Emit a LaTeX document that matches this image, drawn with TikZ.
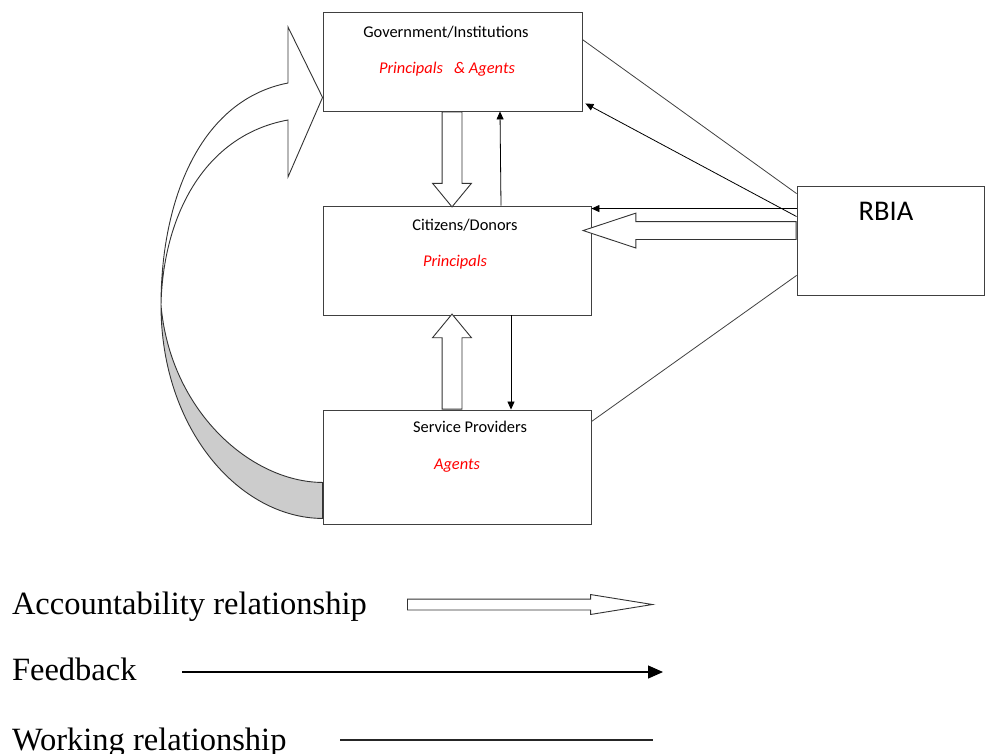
\documentclass[tikz,border=0pt]{standalone}
\usepackage{fontspec}
\setmainfont{Carlito}
\newfontfamily\legendfont{Liberation Serif}
\usetikzlibrary{arrows.meta,shapes.arrows}

\tikzset{
	box/.style={shape=rectangle,draw=black!75,line width=0.9pt,inner sep=0pt},
	title/.style={anchor=base,font=\fontsize{16.4}{19}\selectfont},
	role/.style={anchor=base,text=red,font=\fontsize{16.4}{19}\selectfont\itshape},
	accarrow/.style={single arrow,draw=black!80,fill=white,line width=0.9pt,inner xsep=0pt,minimum width=0pt,anchor=tail},
	feedback/.style={-{Triangle[length=8pt,width=7pt]},black,line width=0.8pt},
	working/.style={-,black!75,line width=0.8pt},
	legend/.style={anchor=base west,font=\legendfont\fontsize{32.5}{38}\selectfont},
	bend arrow/.style={draw=black!80,line width=0.9pt,fill=white}
}

\begin{document}
\begin{tikzpicture}[x=1pt,y=-1pt]
	\useasboundingbox (0,0) rectangle (985,753);
	% boxes
	\node[box,minimum width=259pt,minimum height=99pt]  (gov)  at (452.5,61.5) {};
	\node[box,minimum width=268pt,minimum height=109pt] (cit)  at (457,260.5)  {};
	\node[box,minimum width=268pt,minimum height=114pt] (serv) at (457,467)    {};
	\node[box,minimum width=187pt,minimum height=109pt] (rbia) at (890.5,240.5) {};
	\node[title] (govname)  at (446,37)  {Government/Institutions};
	\node[role]  (govrole)  at (447,73)  {Principals\ \ \ \& Agents};
	\node[title] (citname)  at (465,230) {Citizens/Donors};
	\node[role]  (citrole)  at (455,266) {Principals};
	\node[title] (servname) at (470,432) {Service Providers};
	\node[role]  (servrole) at (457,469) {Agents};
	\node[title,font=\fontsize{28.5}{32}\selectfont] (rbianame) at (886,220) {RBIA};
	% curved accountability arrow, service providers -> government
	\path[bend arrow] (288,83) -- (288,27) -- ([yshift=14pt]gov.south west) -- (288,177) -- (288,120)
		.. controls (205,135) and (163,215) .. (161,305)
		.. controls (161,200) and (200,100) .. (288,83) -- cycle;
	\path[bend arrow,fill=black!20] (161,305) .. controls (161,430) and (240,518) .. ([yshift=6pt]serv.south west)
		-- ([yshift=42pt]serv.south west) .. controls (250,482) and (170,410) .. (161,305) -- cycle;
	% accountability arrows
	\node[accarrow,inner ysep=9.5pt,single arrow head extend=9.5pt,single arrow tip angle=79,minimum height=95pt,rotate=-90] (govtocit) at ([xshift=-0.5pt]gov.south) {};
	\node[accarrow,inner ysep=9.5pt,single arrow head extend=9.5pt,single arrow tip angle=79,minimum height=95pt,rotate=90]  (servtocit) at ([xshift=-5pt]serv.north) {};
	\node[accarrow,inner ysep=8.5pt,single arrow head extend=8.5pt,single arrow tip angle=36.6,minimum height=213pt,rotate=180] (rbiatocit) at ([yshift=-45pt]rbia.north west) {};
	% feedback
	\draw[feedback] ([xshift=44pt]cit.north) -- ([xshift=47.5pt]gov.south);
	\draw[feedback] ([xshift=54pt]cit.south) -- ([xshift=54pt]serv.north);
	\draw[feedback] ([yshift=-31pt]rbia.north west) -- ([xshift=3pt,yshift=8pt]gov.south east);
	\draw[feedback] ([yshift=-23pt]rbia.north west) -- ([yshift=-3pt]cit.north east);
	% working relationships
	\draw[working] ([yshift=-8pt]rbia.north west) -- ([yshift=-28pt]gov.north east);
	\draw[working] ([yshift=20pt]rbia.south west) -- ([yshift=-12pt]serv.north east);
	% legend
	\node[legend] (acctext) at (8.5,614) {Accountability relationship};
	\node[legend] (fbtext)  at (8.5,680) {Feedback};
	\node[legend] (wktext)  at (8.5,750) {Working relationship};
	\coordinate (accstart) at (407,604.5);
	\node[accarrow,inner ysep=5pt,single arrow head extend=4.5pt,single arrow tip angle=18.3,minimum height=245pt] (accsample) at (accstart) {};
	\coordinate (fbstart) at (182,672);
	\coordinate (fbend)   at (663,672);
	\coordinate (wkstart) at (340,740);
	\coordinate (wkend)   at (653,740);
	\draw[feedback,line width=1.2pt,-{Triangle[length=15pt,width=13pt]}] (fbstart) -- (fbend);
	\draw[working,line width=1.2pt,black!85] (wkstart) -- (wkend);
\end{tikzpicture}
\end{document}
